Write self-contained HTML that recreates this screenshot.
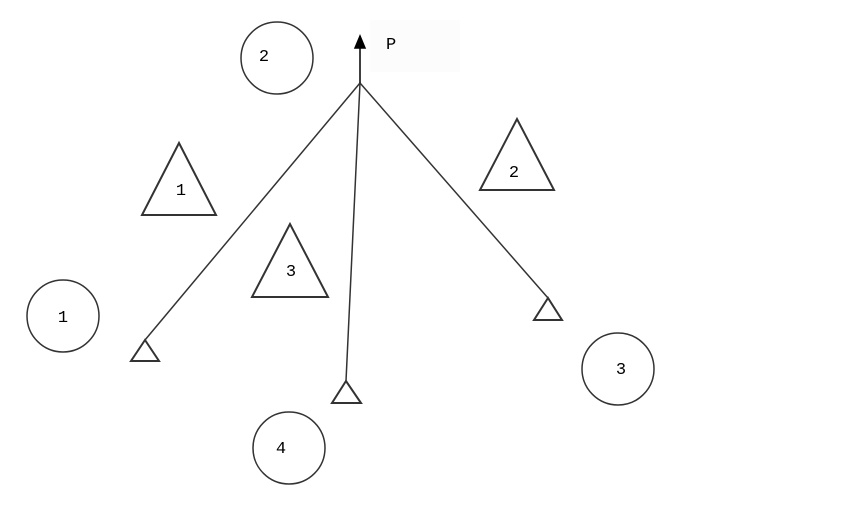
<!DOCTYPE html>
<html><head><style>body{margin:0;background:#fff}</style></head><body>
<svg width="851" height="512" viewBox="0 0 851 512" xmlns="http://www.w3.org/2000/svg" font-family="Liberation Mono, monospace" font-size="17" fill="none" stroke="#333" stroke-width="1.5">
<rect x="370" y="20" width="90" height="52" fill="#fcfcfc" stroke="none"/>
<line x1="360" y1="83" x2="145" y2="340"/>
<line x1="360" y1="83" x2="346" y2="381"/>
<line x1="360" y1="83" x2="548" y2="298"/>
<line x1="360" y1="83" x2="360" y2="46" stroke="#000"/>
<polygon points="360,36 355,48 365,48" fill="#000" stroke="#000"/>
<text x="386" y="49" fill="#000" stroke="none">P</text>
<polygon points="145,340 131,361 159,361" stroke-width="2"/>
<polygon points="346,381 332,403 361,403" stroke-width="2"/>
<polygon points="548,298 534,320 562,320" stroke-width="2"/>
<polygon points="179,143 142,215 216,215" stroke-width="2"/>
<polygon points="517,119 480,190 554,190" stroke-width="2"/>
<polygon points="290,224 252,297 328,297" stroke-width="2"/>
<g fill="#000" stroke="none" text-anchor="middle">
<text x="181" y="195">1</text><text x="514" y="177">2</text><text x="291" y="276">3</text>
</g>
<circle cx="277" cy="58" r="36"/><circle cx="63" cy="316" r="36"/>
<circle cx="618" cy="369" r="36"/><circle cx="289" cy="448" r="36"/>
<g fill="#000" stroke="none" text-anchor="middle">
<text x="264" y="61">2</text><text x="63" y="322">1</text><text x="621" y="374">3</text><text x="281" y="453">4</text>
</g>
</svg>
</body></html>
